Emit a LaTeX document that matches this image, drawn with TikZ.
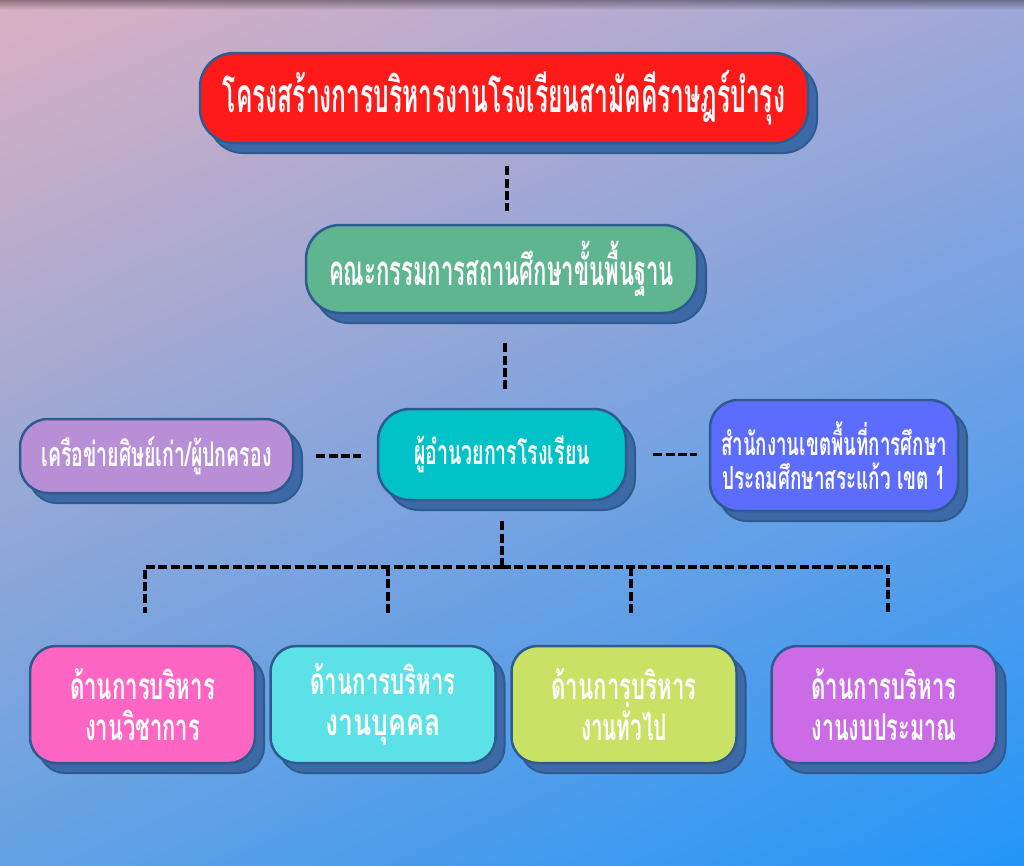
\documentclass[tikz,border=0pt]{standalone}
\usepackage{fontspec}
\usepackage{graphicx}
\newfontfamily\thai[Script=Thai]{Loma}
\usetikzlibrary{shadows,shadings}
\definecolor{bordc}{HTML}{2D5B8F}
\definecolor{shadc}{HTML}{3D69A6}
\definecolor{cred}{HTML}{FF1A1A}
\definecolor{cgreen}{HTML}{5FB58F}
\definecolor{clilac}{HTML}{B88FD6}
\definecolor{cteal}{HTML}{00C2C7}
\definecolor{cblue}{HTML}{5B6CFF}
\definecolor{cpink}{HTML}{FF66C4}
\definecolor{ccyan}{HTML}{5CE1E6}
\definecolor{clime}{HTML}{C9E265}
\definecolor{cviolet}{HTML}{CB6CE6}
\definecolor{bgtl}{HTML}{DBB0C2}
\definecolor{bgtr}{HTML}{A0A8D8}
\definecolor{bgbl}{HTML}{64A2E4}
\definecolor{bgbr}{HTML}{2396F8}
\newcommand\fw[2]{\resizebox{#1pt}{\height}{#2}}
\tikzset{
  orgbox/.style={draw=bordc, line width=2.5pt, rounded corners=30pt, inner sep=0pt,
    text=white, align=center, font=\thai\bfseries,
    copy shadow={shadow xshift=9pt, shadow yshift=-10pt, fill=shadc, draw=bordc, line width=2pt}},
  conn/.style={draw=black, line width=3.2pt, dash pattern=on 9pt off 3.4pt}
}
\begin{document}
\begin{tikzpicture}[x=1pt,y=-1pt]
\useasboundingbox (0,0) rectangle (1024,865);
\shade[upper left=bgtl, upper right=bgtr, lower left=bgbl, lower right=bgbr] (0,0) rectangle (1024,865);
\foreach \i in {0,...,9}{
  \fill[black, opacity={0.035*(10-\i)}] (0,\i) rectangle (1024,\i+1);
}
% nodes
\node[orgbox, fill=cred, minimum width=608pt, minimum height=90pt, rounded corners=34pt, font=\thai\bfseries\fontsize{48}{54}\selectfont] (title) at (504,98)
  {\fw{562}{โครงสร้างการบริหารงานโรงเรียนสามัคคีราษฎร์บำรุง}};
\node[orgbox, fill=cgreen, minimum width=391pt, minimum height=88pt, rounded corners=34pt, font=\thai\bfseries\fontsize{42}{48}\selectfont] (board) at (501.5,269)
  {\fw{345}{คณะกรรมการสถานศึกษาขั้นพื้นฐาน}};
\node[orgbox, fill=clilac, minimum width=273pt, minimum height=74pt, rounded corners=28pt, font=\thai\bfseries\fontsize{34}{40}\selectfont] (alumni) at (156.5,456)
  {\fw{230}{เครือข่ายศิษย์เก่า/ผู้ปกครอง}};
\node[orgbox, fill=cteal, minimum width=248pt, minimum height=91pt, rounded corners=32pt, font=\thai\bfseries\fontsize{34}{40}\selectfont] (dir) at (502,454.5)
  {\fw{176}{ผู้อำนวยการโรงเรียน}};
\node[orgbox, fill=cblue, minimum width=248pt, minimum height=111pt, rounded corners=28pt, font=\thai\bfseries\fontsize{32}{36}\selectfont] (office) at (834,455.5)
  {\fw{226}{สำนักงานเขตพื้นที่การศึกษา}\\[-2pt]\fw{224}{ประถมศึกษาสระแก้ว เขต 1}};
\node[orgbox, fill=cpink, minimum width=225pt, minimum height=117pt, rounded corners=26pt, font=\thai\bfseries\fontsize{37}{41}\selectfont] (acad) at (142.5,704.5)
  {\fw{145}{ด้านการบริหาร}\\\fw{115}{งานวิชาการ}};
\node[orgbox, fill=ccyan, minimum width=225pt, minimum height=117pt, rounded corners=26pt, font=\thai\bfseries\fontsize{37}{41}\selectfont] (pers) at (383,704.5)
  {\fw{145}{ด้านการบริหาร}\\\fw{115}{งานบุคคล}};
\node[orgbox, fill=clime, minimum width=225pt, minimum height=117pt, rounded corners=26pt, font=\thai\bfseries\fontsize{37}{41}\selectfont] (gen) at (624,704.5)
  {\fw{145}{ด้านการบริหาร}\\\fw{86}{งานทั่วไป}};
\node[orgbox, fill=cviolet, minimum width=225pt, minimum height=117pt, rounded corners=26pt, font=\thai\bfseries\fontsize{37}{41}\selectfont] (budg) at (884,704.5)
  {\fw{145}{ด้านการบริหาร}\\\fw{145}{งานงบประมาณ}};
% connectors
\coordinate (hub) at (502,567);
\draw[conn] ([xshift=3pt,yshift=-22pt]title.south) -- ([xshift=5.5pt,yshift=13pt]board.north);
\draw[conn] ([xshift=3.5pt,yshift=-29pt]board.south) -- ([xshift=3pt,yshift=19pt]dir.north);
\draw[conn] ([xshift=22pt]alumni.east) -- ([xshift=-16pt]alumni.east -| dir.west);
\draw[conn] ([xshift=26pt]dir.east) -- ([xshift=-12pt]dir.east -| office.west);
\draw[conn] ([yshift=-20pt]dir.south) -- (hub);
\draw[conn] (hub) -- ([xshift=2.5pt]hub -| acad.north) -- ([xshift=2.5pt,yshift=32pt]acad.north);
\draw[conn] (hub) -- ([xshift=4pt]hub -| budg.north) -- ([xshift=4pt,yshift=32pt]budg.north);
\draw[conn] ([xshift=5pt]hub -| pers.north) -- ([xshift=5pt,yshift=32pt]pers.north);
\draw[conn] ([xshift=7pt]hub -| gen.north) -- ([xshift=7pt,yshift=32pt]gen.north);
\end{tikzpicture}
\end{document}
